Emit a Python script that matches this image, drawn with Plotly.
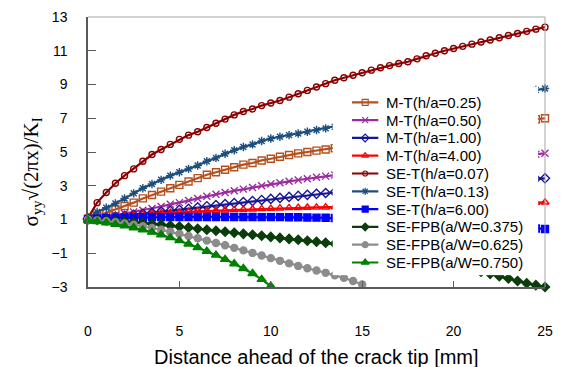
import plotly.graph_objects as go

# Distance ahead of the crack tip [mm]
DIST = [0.0, 0.5, 1.0, 1.5, 2.0, 2.5, 3.0, 3.5, 4.0, 4.5, 5.0, 5.5, 6.0, 6.5, 7.0, 7.5,
        8.0, 8.5, 9.0, 9.5, 10.0, 10.5, 11.0, 11.5, 12.0, 12.5, 13.0, 13.5, 14.0, 14.5,
        15.0, 15.5, 16.0, 16.5, 17.0, 17.5, 18.0, 18.5, 19.0, 19.5, 20.0, 20.5, 21.0,
        21.5, 22.0, 22.5, 23.0, 23.5, 24.0, 24.5, 25.0]

# normalised opening stress for each specimen geometry
MT_025 = [1.05, 1.2, 1.4, 1.6, 1.8, 2.0, 2.25, 2.45, 2.65, 2.85, 3.05, 3.25, 3.45, 3.65,
          3.8, 3.95, 4.1, 4.25, 4.35, 4.5, 4.6, 4.72, 4.82, 4.92, 5.0, 5.08, 5.15, 5.22,
          5.32, 5.42, 5.52, 5.6, 5.68, 5.76, 5.84, 5.92, 6.0, 6.08, 6.16, 6.23, 6.3, 6.38,
          6.45, 6.52, 6.59, 6.66, 6.73, 6.8, 6.87, 6.94, 7.0]
MT_050 = [1.05, 1.1, 1.17, 1.25, 1.35, 1.45, 1.55, 1.65, 1.77, 1.9, 2.0, 2.12, 2.25, 2.38,
          2.5, 2.6, 2.7, 2.8, 2.9, 3.0, 3.1, 3.18, 3.26, 3.34, 3.42, 3.5, 3.57, 3.64, 3.7,
          3.76, 3.82, 3.88, 3.94, 4.0, 4.06, 4.12, 4.18, 4.24, 4.3, 4.36, 4.42, 4.47, 4.52,
          4.57, 4.62, 4.67, 4.72, 4.77, 4.82, 4.87, 4.92]
MT_100 = [1.05, 1.08, 1.12, 1.17, 1.22, 1.28, 1.34, 1.4, 1.46, 1.52, 1.58, 1.64, 1.72,
          1.79, 1.86, 1.92, 1.98, 2.04, 2.1, 2.16, 2.22, 2.28, 2.34, 2.4, 2.46, 2.52, 2.57,
          2.62, 2.66, 2.7, 2.74, 2.78, 2.82, 2.86, 2.9, 2.94, 2.98, 3.02, 3.06, 3.1, 3.14,
          3.17, 3.2, 3.23, 3.26, 3.29, 3.32, 3.35, 3.38, 3.41, 3.44]
MT_400 = [1.05, 1.1, 1.15, 1.19, 1.23, 1.27, 1.3, 1.34, 1.37, 1.4, 1.43, 1.46, 1.49, 1.51,
          1.53, 1.55, 1.57, 1.59, 1.61, 1.63, 1.65, 1.67, 1.69, 1.7, 1.71, 1.72, 1.73, 1.74,
          1.75, 1.76, 1.77, 1.79, 1.8, 1.81, 1.82, 1.84, 1.85, 1.86, 1.87, 1.89, 1.9, 1.91,
          1.92, 1.94, 1.95, 1.96, 1.97, 1.98, 1.99, 2.0, 2.02]
SET_007 = [1.1, 2.0, 2.6, 3.15, 3.6, 4.0, 4.45, 4.85, 5.15, 5.45, 5.75, 6.0, 6.2, 6.45,
           6.7, 6.95, 7.2, 7.4, 7.55, 7.75, 7.9, 8.05, 8.25, 8.45, 8.65, 8.85, 9.05, 9.25,
           9.4, 9.55, 9.7, 9.85, 9.99, 10.12, 10.24, 10.35, 10.52, 10.7, 10.85, 11.0, 11.13,
           11.26, 11.39, 11.52, 11.64, 11.77, 11.9, 12.02, 12.15, 12.28, 12.4]
SET_013 = [1.1, 1.45, 1.7, 1.95, 2.25, 2.55, 2.85, 3.1, 3.35, 3.6, 3.8, 4.0, 4.2, 4.45,
           4.65, 4.9, 5.1, 5.3, 5.45, 5.65, 5.8, 5.9, 6.0, 6.1, 6.2, 6.3, 6.4, 6.5, 6.62,
           6.74, 6.86, 6.98, 7.08, 7.18, 7.28, 7.38, 7.48, 7.58, 7.68, 7.78, 7.88, 7.97,
           8.06, 8.15, 8.24, 8.33, 8.42, 8.5, 8.6, 8.68, 8.76]
SET_600 = [1.0, 1.05, 1.08, 1.1, 1.11, 1.12, 1.13, 1.14, 1.14, 1.15, 1.15, 1.15, 1.15,
           1.15, 1.15, 1.15, 1.15, 1.15, 1.15, 1.14, 1.14, 1.14, 1.13, 1.13, 1.12, 1.11,
           1.1, 1.09, 1.07, 1.05, 1.03, 1.0, 0.98, 0.95, 0.92, 0.89, 0.86, 0.83, 0.8, 0.77,
           0.74, 0.71, 0.68, 0.65, 0.62, 0.59, 0.56, 0.53, 0.5, 0.47, 0.44]
FPB_0375 = [1.0, 0.98, 0.95, 0.92, 0.88, 0.84, 0.79, 0.75, 0.7, 0.64, 0.58, 0.52, 0.45,
            0.39, 0.33, 0.27, 0.21, 0.15, 0.1, 0.04, -0.03, -0.09, -0.15, -0.2, -0.26,
            -0.32, -0.38, -0.44, -0.51, -0.59, -0.67, -0.76, -0.85, -0.94, -1.04, -1.14,
            -1.25, -1.36, -1.47, -1.59, -1.71, -1.84, -1.98, -2.1, -2.22, -2.36, -2.5,
            -2.64, -2.78, -2.89, -3.0]
FPB_0625 = [1.0, 0.95, 0.9, 0.84, 0.77, 0.69, 0.6, 0.5, 0.39, 0.27, 0.15, 0.02, -0.11,
            -0.25, -0.39, -0.53, -0.68, -0.83, -0.98, -1.13, -1.29, -1.45, -1.6, -1.75,
            -1.89, -2.02, -2.16, -2.3, -2.46, -2.64, -2.85]
FPB_0750 = [0.95, 0.88, 0.8, 0.71, 0.62, 0.51, 0.39, 0.25, 0.1, -0.07, -0.25, -0.45, -0.66,
            -0.88, -1.11, -1.36, -1.62, -1.9, -2.2, -2.55, -2.95]

NAMES = ["M-T(h/a=0.25)", "M-T(h/a=0.50)", "M-T(h/a=1.00)", "M-T(h/a=4.00)",
         "SE-T(h/a=0.07)", "SE-T(h/a=0.13)", "SE-T(h/a=6.00)",
         "SE-FPB(a/W=0.375)", "SE-FPB(a/W=0.625)", "SE-FPB(a/W=0.750)"]
SERIES = [MT_025, MT_050, MT_100, MT_400, SET_007, SET_013, SET_600,
          FPB_0375, FPB_0625, FPB_0750]
COLORS = ["#B5501E", "#9B2C9F", "#161696", "#FF0000", "#8B0000", "#1C4E7E", "#0000FF",
          "#0B3D0B", "#8C8C8C", "#008000"]
SYMBOLS = ["square-open", "x-thin-open", "diamond-open", "triangle-up-open", "circle-open",
           "asterisk-open", "square", "diamond", "circle", "triangle-up"]
SIZES = [7, 7, 7, 7, 6, 7, 7, 7, 7, 8]
LEGEND_SIZES = [6, 6, 6, 6, 5, 6, 6, 6, 6, 7]

X_TICKS = [0, 5, 10, 15, 20, 25]
Y_TICKS = [-3, -1, 1, 3, 5, 7, 9, 11, 13]

SANS = "Liberation Sans, Arial, sans-serif"
SERIF = "Liberation Serif, Times New Roman, serif"

fig = go.Figure()

for name, ys, col, sym, sz in zip(NAMES, SERIES, COLORS, SYMBOLS, SIZES):
    fig.add_trace(go.Scatter(
        x=DIST[:len(ys)], y=ys, name=name, mode="lines+markers",
        line=dict(color=col, width=2.2),
        marker=dict(symbol=sym, size=sz, color=col, line=dict(color=col, width=1.4)),
        cliponaxis=False, showlegend=False,
    ))

# legend panel: an inset subplot with its own white background
SAMPLE_L, SAMPLE_M, SAMPLE_R, TEXT_X = 0.094, 0.158, 0.222, 0.25
for i, (name, col, sym, sz) in enumerate(zip(NAMES, COLORS, SYMBOLS, LEGEND_SIZES)):
    fig.add_trace(go.Scatter(
        x=[SAMPLE_L, SAMPLE_R], y=[i, i], mode="lines", xaxis="x2", yaxis="y2",
        line=dict(color=col, width=2.2), showlegend=False, hoverinfo="skip",
    ))
    fig.add_trace(go.Scatter(
        x=[SAMPLE_M], y=[i], mode="markers", xaxis="x2", yaxis="y2",
        marker=dict(symbol=sym, size=sz, color=col, line=dict(color=col, width=1.2)),
        showlegend=False, hoverinfo="skip",
    ))
    fig.add_annotation(
        x=TEXT_X, y=i, xref="x2", yref="y2", text=name, showarrow=False,
        xanchor="left", yanchor="middle", font=dict(family=SANS, size=15, color="#000000"),
    )

axis_line = "#595959"
fig.update_layout(
    width=562, height=367,
    margin=dict(l=88, r=9, t=16, b=80),
    paper_bgcolor="white", plot_bgcolor="white",
    font=dict(family=SANS, size=14, color="#000000"),
    showlegend=False,
    xaxis=dict(
        range=[0, 25], tickvals=X_TICKS, ticks="inside", ticklen=6, tickwidth=1,
        tickcolor=axis_line, showline=True, linecolor=axis_line, linewidth=1.5,
        showgrid=False, zeroline=False, ticklabelstandoff=30,
        tickfont=dict(family=SANS, size=14, color="#000000"),
    ),
    yaxis=dict(
        range=[-3, 13], tickvals=Y_TICKS, ticks="inside", ticklen=8, tickwidth=1,
        tickcolor=axis_line, showline=True, linecolor=axis_line, linewidth=1.5,
        showgrid=False, zeroline=False, ticklabelstandoff=16,
        tickfont=dict(family=SANS, size=14, color="#000000"),
    ),
    xaxis2=dict(domain=[0.5355, 0.985], anchor="y2", range=[0, 1], visible=False,
                fixedrange=True),
    yaxis2=dict(domain=[0.044, 0.742], anchor="x2", range=[9.71, -0.88], visible=False,
                fixedrange=True),
)

# light frame on the top and right of the plotting area
fig.add_shape(type="line", xref="paper", yref="paper", x0=0, x1=1, y0=1, y1=1,
              line=dict(color="#A6A6A6", width=1))
fig.add_shape(type="line", xref="paper", yref="paper", x0=1, x1=1, y0=0, y1=1,
              line=dict(color="#A6A6A6", width=1))

fig.add_annotation(
    x=0.5, y=-0.258, xref="paper", yref="paper", showarrow=False,
    text="Distance ahead of the crack tip [mm]", xanchor="center", yanchor="middle",
    font=dict(family=SANS, size=20, color="#000000"),
)
fig.add_annotation(
    x=-0.1226, y=0.428, xref="paper", yref="paper", showarrow=False, textangle=-90,
    text="σ<sub>yy</sub>√(2πx)/K<sub>I</sub>", xanchor="center", yanchor="middle",
    font=dict(family=SERIF, size=21, color="#000000"),
)

fig.write_html("out.html")
